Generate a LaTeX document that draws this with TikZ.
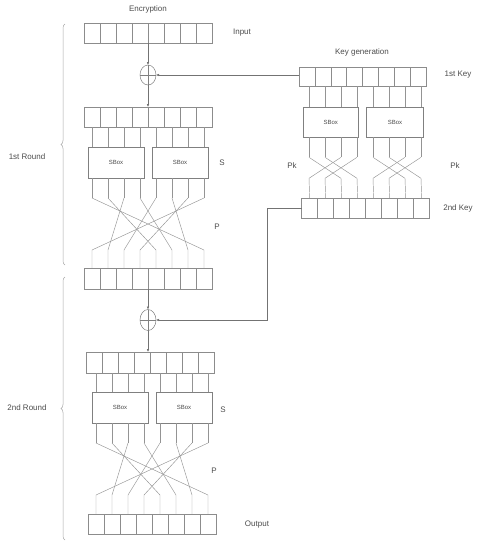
\documentclass[tikz,border=0pt]{standalone}
\usepackage{fontspec}
\setmainfont{Liberation Sans}
\usetikzlibrary{arrows.meta,shapes.geometric,decorations.pathreplacing}
\begin{document}
\begin{tikzpicture}[x=1pt,y=-1pt,
  lbl/.style={font=\fontsize{8}{9}\selectfont, inner sep=0, text=black!70},
  cellbox/.style={draw=black!45, line width=0.5pt, minimum width=16pt, minimum height=20pt, inner sep=0, outer sep=0, anchor=north west},
  sboxnode/.style={draw=black!50, line width=0.5pt, inner sep=0, outer sep=0, anchor=north west, minimum width=56pt, minimum height=31pt, font=\fontsize{6}{7}\selectfont, text=black!70},
  wire/.style={draw=black!42, line width=0.45pt},
  arr/.style={draw=black!55, line width=0.5pt, -{Latex[length=3pt,width=2.6pt]}},
  xorop/.style={draw=black!50, ellipse, minimum width=16pt, minimum height=20pt, inner sep=0, outer sep=0, line width=0.5pt},
  rbrace/.style={draw=black!35, decorate, decoration={brace, amplitude=4pt}, line width=0.5pt}]
\useasboundingbox (0,0) rectangle (479,542);

% ---------- labels
\node[lbl] (tenc) at (148,9) {Encryption};
\node[lbl] (tin) at (242,33) {Input};
\node[lbl] (ts1) at (222,163) {S};
\node[lbl] (tp1) at (217,227) {P};
\node[lbl] (ts2) at (223,410) {S};
\node[lbl] (tp2) at (214,471) {P};
\node[lbl] (tout) at (257,525) {Output};
\node[lbl] (tr1) at (27,157) {1st Round};
\node[lbl] (tr2) at (27,408) {2nd Round};
\node[lbl] (tkg) at (362,52) {Key generation};
\node[lbl] (tk1) at (458,75) {1st Key};
\node[lbl] (tk2) at (458,208) {2nd Key};
\node[lbl] (tpk1) at (292,166) {Pk};
\node[lbl] (tpk2) at (455,166) {Pk};

% ---------- braces
\draw[rbrace] (65,265) -- (65,24);
\draw[rbrace] (65,540) -- (65,277);

% ---------- registers
\foreach \i in {0,...,7} {
  \node[cellbox] (ra\i) at ({84+16*\i},23) {};
  \node[cellbox] (rb\i) at ({84+16*\i},107) {};
  \node[cellbox, minimum height=21pt] (rc\i) at ({84+16*\i},268) {};
  \node[cellbox, minimum height=21pt] (rd\i) at ({86+16*\i},352) {};
  \node[cellbox] (re\i) at ({88+16*\i},514) {};
  \node[cellbox, minimum width=15.9pt, minimum height=19pt] (ka\i) at ({299+15.9*\i},67) {};
  \node[cellbox] (kb\i) at ({301.7+16*\i},198.3) {};
}

% ---------- S-boxes
\node[sboxnode] (s1a) at (88,147) {SBox};
\node[sboxnode] (s1b) at (152,147) {SBox};
\node[sboxnode] (s2a) at (92,392) {SBox};
\node[sboxnode] (s2b) at (156,392) {SBox};
\node[sboxnode, minimum width=55pt, minimum height=29.7pt] (ksa) at (303.3,107.3) {SBox};
\node[sboxnode, minimum width=56.6pt, minimum height=29.7pt] (ksb) at (366.7,107.3) {SBox};

% ---------- XOR
\node[xorop] (x1) at (148,75) {};
\draw[draw=black!50, line width=0.5pt] (x1.north) -- (x1.south) (x1.west) -- (x1.east);
\node[xorop, minimum height=21pt] (x2) at (148,320) {};
\draw[draw=black!50, line width=0.5pt] (x2.north) -- (x2.south) (x2.west) -- (x2.east);

% ---------- arrows
\draw[arr] (ra3.south east) -- (x1.north);
\draw[arr] (x1.south) -- (rb3.north east);
\draw[arr] (ka0.west |- x1.east) -- (x1.east);
\draw[arr] (rc3.south east) -- (x2.north);
\draw[arr] (x2.south) -- (x2.south |- rd0.north);
\coordinate (kbend) at (267.3,208.3);
\draw[arr] (kb0.west) -- (kbend) |- (x2.east);

% ---------- round 1 wiring
\foreach \i in {0,...,7} {
  \draw[wire] (rb\i.south) -- (rb\i.south |- s1a.north);
  \draw[wire] (rb\i.south |- s1a.south) -- ({92+16*\i},198);
}
\foreach \s/\d in {0/7,1/4,2/1,3/5,4/2,5/6,6/3,7/0}
  \draw[wire] ({92+16*\s},198) -- ({92+16*\d},250) -- (rc\d.north);

% ---------- round 2 wiring
\foreach \i in {0,...,7} {
  \draw[wire] ({96+16*\i},373) -- ({96+16*\i},392);
  \draw[wire] ({96+16*\i},423) -- ({96+16*\i},443);
}
\foreach \s/\d in {0/7,1/4,2/1,3/5,4/2,5/6,6/3,7/0}
  \draw[wire] ({96+16*\s},443) -- ({96+16*\d},495) -- (re\d.north);

% ---------- key wiring
\foreach \i in {0,...,7} {
  \draw[wire] ({309+16*\i},86) -- ({309+16*\i},107.3);
  \draw[wire] ({309+16*\i},137) -- ({309+16*\i},157.3);
}
\foreach \s/\d in {0/2,1/3,2/0,3/1,4/6,5/7,6/4,7/5}
  \draw[wire] ({309+16*\s},157.3) -- ({309+16*\d},178.3) -- (kb\d.north);
\end{tikzpicture}
\end{document}
